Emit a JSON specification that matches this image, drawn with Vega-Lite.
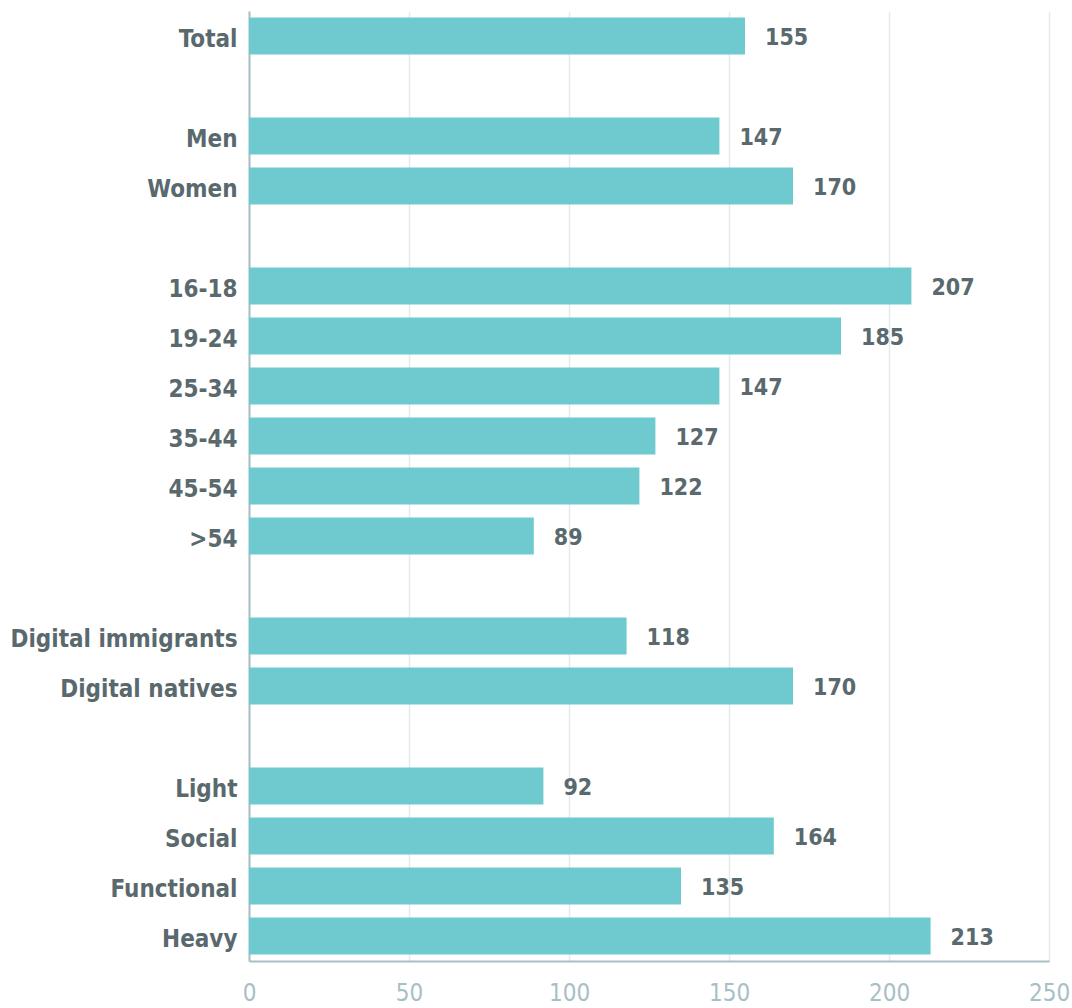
{
  "$schema": "https://vega.github.io/schema/vega-lite/v6.json",
  "autosize": "none",
  "padding": {"left": 249, "top": 11, "right": 23, "bottom": 47},
  "width": 800,
  "height": 950,
  "background": "white",
  "config": {"view": {"stroke": null}},
  "data": {
    "values": [
      {"group": "Total", "value": 155},
      {"group": "Men", "value": 147},
      {"group": "Women", "value": 170},
      {"group": "16-18", "value": 207},
      {"group": "19-24", "value": 185},
      {"group": "25-34", "value": 147},
      {"group": "35-44", "value": 127},
      {"group": "45-54", "value": 122},
      {"group": ">54", "value": 89},
      {"group": "Digital immigrants", "value": 118},
      {"group": "Digital natives", "value": 170},
      {"group": "Light", "value": 92},
      {"group": "Social", "value": 164},
      {"group": "Functional", "value": 135},
      {"group": "Heavy", "value": 213}
    ]
  },
  "encoding": {
    "y": {
      "field": "group",
      "type": "nominal",
      "sort": null,
      "scale": {
        "domain": ["Total", "gap1", "Men", "Women", "gap2", "16-18", "19-24", "25-34", "35-44", "45-54", ">54", "gap3", "Digital immigrants", "Digital natives", "gap4", "Light", "Social", "Functional", "Heavy"],
        "paddingInner": 0.26,
        "paddingOuter": 0.13
      },
      "axis": {
        "title": null,
        "ticks": false,
        "grid": false,
        "domain": true,
        "domainColor": "#a7c0c5",
        "domainWidth": 2,
        "labelExpr": "indexof(datum.label, 'gap') == 0 ? '' : datum.label",
        "labelFont": "DejaVu Sans Condensed",
        "labelFontWeight": "bold",
        "labelFontSize": 24,
        "labelColor": "#59696e",
        "labelPadding": 12,
        "labelOffset": 4,
        "labelLimit": 300
      }
    },
    "x": {
      "field": "value",
      "type": "quantitative",
      "scale": {"domain": [0, 250], "nice": false},
      "axis": {
        "title": null,
        "values": [0, 50, 100, 150, 200, 250],
        "ticks": false,
        "grid": true,
        "gridColor": "#e6eaeb",
        "gridWidth": 1.5,
        "domain": true,
        "domainColor": "#a7c0c5",
        "domainWidth": 2,
        "labelFont": "DejaVu Sans Condensed",
        "labelFontSize": 24,
        "labelColor": "#a7c0c5",
        "labelPadding": 20,
        "labelFlush": false
      }
    }
  },
  "layer": [
    {"mark": {"type": "bar", "color": "#6ecacf"}},
    {
      "mark": {
        "type": "text",
        "align": "left",
        "baseline": "middle",
        "dx": 20,
        "dy": 2,
        "font": "DejaVu Sans Condensed",
        "fontWeight": "bold",
        "fontSize": 23,
        "color": "#59696e"
      },
      "encoding": {"text": {"field": "value", "type": "quantitative"}}
    }
  ]
}
